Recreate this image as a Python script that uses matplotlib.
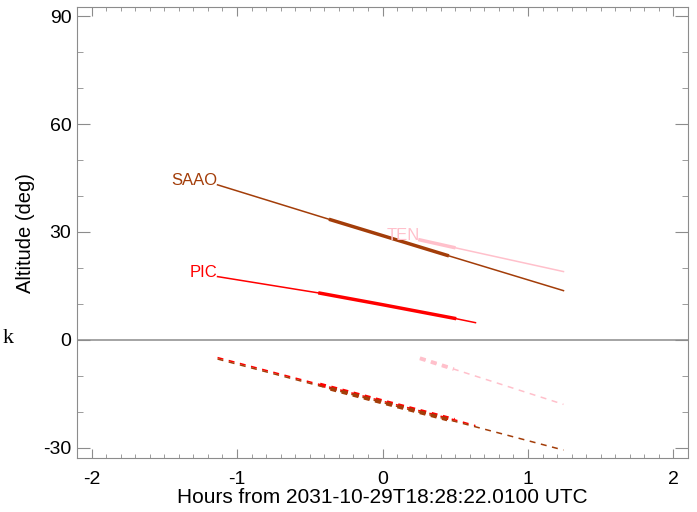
import numpy as np
import matplotlib
matplotlib.use("Agg")
import matplotlib.pyplot as plt
from matplotlib.ticker import MultipleLocator

plt.rcParams['font.family'] = ['Liberation Sans', 'DejaVu Sans']
plt.rcParams['lines.scale_dashes'] = False

# Altitude tracks (hours from reference time, degrees)
saao_t = [-1.134, -0.357, 0.0, 0.445, 1.244]
saao_alt = [43.1, 33.4, 29.0, 23.5, 13.7]
saao_obs = (-0.357, 0.445)

pic_t = [-1.134, -0.43, 0.0, 0.495, 0.639]
pic_alt = [17.6, 13.0, 9.8, 6.0, 4.8]
pic_obs = (-0.43, 0.495)

ten_t = [0.257, 0.49, 1.244]
ten_alt = [27.8, 25.7, 19.0]
ten_obs = (0.257, 0.49)

# Sun altitude at each site (dashed)
saao_sun_t = [-1.134, -0.43, 0.0, 0.495, 1.244]
saao_sun_alt = [-5.3, -12.8, -17.4, -22.6, -30.6]

pic_sun_t = [-1.134, -0.43, 0.0, 0.495, 0.639]
pic_sun_alt = [-4.9, -12.4, -17.0, -22.2, -23.8]

ten_sun_t = [0.257, 0.49, 1.244]
ten_sun_alt = [-5.1, -8.1, -17.9]

sites = [
    ("PIC", "#ff0000", pic_t, pic_alt, pic_obs, pic_sun_t, pic_sun_alt),
    ("SAAO", "#a33d09", saao_t, saao_alt, saao_obs, saao_sun_t, saao_sun_alt),
    ("TEN", "#ffc0cb", ten_t, ten_alt, ten_obs, ten_sun_t, ten_sun_alt),
]

ref_time = "2031-10-29T18:28:22.0100 UTC"
grey = "#8c8c8c"


def segment(t, a, t0, t1):
    tt = np.linspace(t0, t1, 30)
    return tt, np.interp(tt, t, a)


fig = plt.figure(figsize=(6.97, 5.12), dpi=100)
ax = fig.add_axes([0.1105, 0.1055, 0.8766, 0.88])

ax.axhline(0, color=grey, lw=1.1, zorder=1)

z = 2
for name, col, t, a, obs, st, sa in sites:
    ax.plot(t, a, color=col, lw=1.1, zorder=z)
    ot, oa = segment(t, a, *obs)
    ax.plot(ot, oa, color=col, lw=2.5, zorder=z + 0.5)
    ax.plot(st, sa, color=col, lw=1.1, dashes=(4.3, 4.0), zorder=z)
    ot, oa = segment(st, sa, *obs)
    ax.plot(ot, oa, color=col, lw=2.8, dashes=(4.3, 4.0), zorder=z + 0.5)
    ax.text(t[0], a[0], name, color=col, fontsize=12, ha='right', va='baseline', zorder=z + 1)
    z += 1

ax.set_xlim(-2.1, 2.1)
ax.set_ylim(-32.8, 92.4)
ax.xaxis.set_major_locator(MultipleLocator(1))
ax.xaxis.set_minor_locator(MultipleLocator(0.1))
ax.yaxis.set_major_locator(MultipleLocator(30))
ax.yaxis.set_minor_locator(MultipleLocator(10))
ax.xaxis.set_major_formatter(plt.FuncFormatter(lambda v, p: f"{v:.0f}"))
ax.yaxis.set_major_formatter(plt.FuncFormatter(lambda v, p: f"{v:.0f}"))

for s in ax.spines.values():
    s.set_color(grey)
ax.tick_params(axis='both', which='both', direction='in', colors=grey,
               labelcolor='black', labelsize=14, top=True, right=True)
ax.tick_params(axis='x', which='major', length=6.5, pad=9.5)
ax.tick_params(axis='x', which='minor', length=3.2)
ax.tick_params(axis='y', which='major', length=9.5, pad=4)
ax.tick_params(axis='y', which='minor', length=4.5)

ax.set_xlabel("Hours from " + ref_time, fontsize=15, labelpad=0)
ax.set_ylabel("Altitude (deg)", fontsize=14.5, labelpad=6)

fig.text(0.004, 0.33, "k", fontsize=16, family=['Liberation Serif', 'DejaVu Serif'])

fig.savefig("out.png", dpi=100)
